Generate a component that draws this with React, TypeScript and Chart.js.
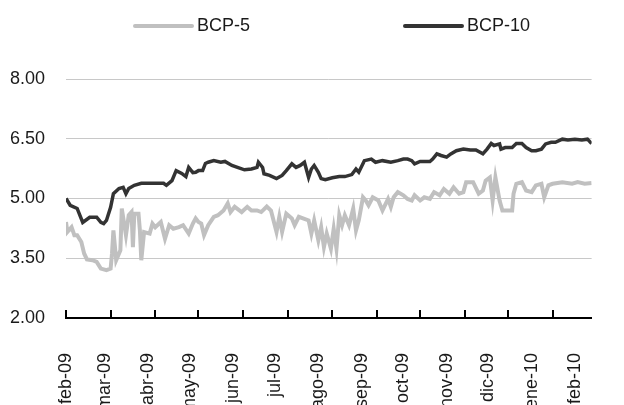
import { useEffect, useRef } from 'react';
import { Chart, registerables } from 'chart.js';

Chart.register(...registerables);

// x unit: days since the first observation (beginning of feb-09)
const MONTH_LABELS = ['feb-09', 'mar-09', 'abr-09', 'may-09', 'jun-09', 'jul-09', 'ago-09', 'sep-09', 'oct-09', 'nov-09', 'dic-09', 'ene-10', 'feb-10'];
const MONTH_DAYS = [0, 28, 59, 89, 120, 150, 181, 212, 242, 273, 303, 334, 365];
const TICK_MARK_DAYS = [0, 32, 64, 95, 127, 159, 191, 223, 254, 286, 317, 349];
const Y_TICKS = [2.0, 3.5, 5.0, 6.5, 8.0];

const SERIES_LABELS = ['BCP-5', 'BCP-10'];

const BCP5_DAYS = [
  0, 1, 4, 6, 8, 11, 13, 15, 19, 22, 25, 29, 32, 33, 34, 36, 37, 39, 40, 43,
  45, 47, 48, 49, 52, 53, 54, 56, 60, 62, 64, 68, 71, 74, 77, 81, 84, 88, 91, 93,
  95, 97, 99, 102, 106, 109, 113, 116, 118, 121, 126, 130, 133, 137, 140, 144, 147, 151, 153, 155,
  158, 162, 164, 167, 170, 174, 176, 178, 181, 183, 185, 187, 190, 192, 194, 196, 198, 200, 203, 206,
  208, 210, 213, 215, 217, 220, 224, 227, 231, 233, 235, 238, 242, 245, 248, 250, 254, 257, 261, 264,
  268, 271, 275, 278, 282, 285, 287, 292, 296, 299, 301, 304, 306, 308, 311, 313, 316, 320, 321, 323,
  327, 330, 334, 337, 341, 343, 346, 349, 356, 363, 367, 372, 377,
];
const BCP5_VALUES = [
  4.41, 4.16, 4.28, 4.08, 4.08, 3.91, 3.62, 3.47, 3.45, 3.41, 3.24, 3.2, 3.24, 3.62, 4.2, 3.45, 3.53, 3.7, 4.75, 4.08,
  4.58, 4.66, 3.78, 4.62, 4.62, 4.2, 3.45, 4.16, 4.12, 4.37, 4.28, 4.41, 3.99, 4.33, 4.24, 4.28, 4.33, 4.12, 4.37, 4.5,
  4.41, 4.37, 4.08, 4.33, 4.54, 4.58, 4.7, 4.88, 4.66, 4.79, 4.66, 4.79, 4.7, 4.7, 4.66, 4.8, 4.7, 4.16, 4.54, 4.16,
  4.62, 4.5, 4.33, 4.54, 4.5, 4.45, 4.12, 4.45, 3.95, 4.28, 3.78, 4.12, 3.74, 4.24, 3.74, 4.58, 4.33, 4.58, 4.33, 4.75,
  4.2, 4.45, 5.03, 4.95, 4.83, 5.03, 4.95, 4.7, 4.99, 4.79, 5.03, 5.16, 5.08, 4.99, 4.95, 5.08, 4.95, 5.03, 4.99, 5.16,
  5.08, 5.24, 5.12, 5.28, 5.12, 5.16, 5.41, 5.41, 5.12, 5.2, 5.45, 5.53, 4.95, 5.53, 4.95, 4.7, 4.7, 4.7, 5.12, 5.37,
  5.41, 5.2, 5.16, 5.33, 5.37, 5.03, 5.33, 5.37, 5.41, 5.37, 5.41, 5.37, 5.39,
];

const BCP10_DAYS = [
  0, 3, 8, 12, 17, 22, 25, 27, 29, 32, 34, 38, 41, 43, 45, 49, 54, 61, 70, 72,
  76, 79, 83, 86, 88, 91, 93, 95, 98, 100, 102, 106, 111, 114, 119, 123, 128, 133, 137, 138,
  141, 142, 146, 151, 155, 158, 162, 165, 168, 171, 174, 176, 178, 181, 183, 186, 191, 196, 200, 205,
  208, 210, 214, 219, 222, 227, 233, 238, 242, 245, 248, 250, 254, 261, 263, 266, 269, 273, 276, 280,
  285, 290, 294, 297, 299, 302, 305, 307, 311, 312, 315, 320, 323, 327, 330, 334, 337, 341, 344, 348,
  351, 356, 360, 365, 370, 374, 377,
];
const BCP10_VALUES = [
  5.0, 4.83, 4.75, 4.4, 4.53, 4.53, 4.4, 4.37, 4.45, 4.78, 5.12, 5.25, 5.28, 5.12, 5.25, 5.33, 5.38, 5.38, 5.38, 5.33,
  5.45, 5.7, 5.63, 5.55, 5.78, 5.65, 5.66, 5.7, 5.7, 5.88, 5.91, 5.95, 5.91, 5.93, 5.83, 5.78, 5.72, 5.74, 5.78, 5.91,
  5.78, 5.62, 5.58, 5.5, 5.58, 5.7, 5.87, 5.78, 5.83, 5.91, 5.53, 5.74, 5.83, 5.66, 5.5, 5.47, 5.52, 5.55, 5.55, 5.6,
  5.74, 5.66, 5.95, 5.99, 5.91, 5.95, 5.91, 5.95, 5.99, 5.99, 5.95, 5.87, 5.93, 5.93, 5.99, 6.12, 6.08, 6.04, 6.12, 6.2,
  6.24, 6.22, 6.22, 6.16, 6.12, 6.24, 6.38, 6.33, 6.37, 6.24, 6.28, 6.28, 6.38, 6.38, 6.28, 6.2, 6.2, 6.24, 6.37, 6.41,
  6.41, 6.49, 6.47, 6.49, 6.47, 6.49, 6.38,
];

const FONT = "'Liberation Sans', Arial, sans-serif";
const FONT_SIZE = 18;
const TEXT_COLOR = '#1a1a1a';
const LEGEND_X = [135, 405];

export default function App() {
  const canvasRef = useRef<HTMLCanvasElement | null>(null);

  useEffect(() => {
    const canvas = canvasRef.current;
    if (!canvas) return;

    const framePlugin = {
      id: 'frame',
      afterDraw(chart: any) {
        const ctx = chart.ctx;
        ctx.save();
        ctx.lineWidth = 3;
        ctx.strokeStyle = '#333';
        ctx.beginPath();
        ctx.moveTo(5.5, 420);
        ctx.lineTo(5.5, 5);
        ctx.lineTo(606, 5);
        ctx.stroke();
        ctx.strokeStyle = '#bbbbbb';
        ctx.beginPath();
        ctx.moveTo(606, 5);
        ctx.lineTo(624, 5);
        ctx.stroke();
        ctx.restore();
      },
    };

    const legendPlugin = {
      id: 'fixedLegend',
      afterDraw(chart: any) {
        const ctx = chart.ctx;
        ctx.save();
        chart.data.datasets.forEach((ds: any, i: number) => {
          const x0 = LEGEND_X[i];
          const y = 26;
          ctx.beginPath();
          ctx.lineCap = 'round';
          ctx.lineWidth = 4;
          ctx.strokeStyle = ds.borderColor;
          ctx.moveTo(x0, y);
          ctx.lineTo(x0 + 57, y);
          ctx.stroke();
          ctx.fillStyle = TEXT_COLOR;
          ctx.font = `${FONT_SIZE}px ${FONT}`;
          ctx.textBaseline = 'middle';
          ctx.textAlign = 'left';
          ctx.fillText(ds.label, x0 + 62, y);
        });
        ctx.restore();
      },
    };

    const innerTicksPlugin = {
      id: 'innerTicks',
      afterDraw(chart: any) {
        const ctx = chart.ctx;
        const xs = chart.scales.x;
        const bottom = chart.chartArea.bottom;
        ctx.save();
        ctx.strokeStyle = '#000';
        ctx.lineWidth = 2;
        TICK_MARK_DAYS.forEach((d) => {
          const px = Math.round(xs.getPixelForValue(d));
          ctx.beginPath();
          ctx.moveTo(px, bottom);
          ctx.lineTo(px, bottom - 8);
          ctx.stroke();
        });
        ctx.restore();
      },
    };

    const chart = new Chart(canvas, {
      type: 'line',
      data: {
        datasets: [
          {
            label: SERIES_LABELS[0],
            data: BCP5_DAYS.map((d, i) => ({ x: d, y: BCP5_VALUES[i] })),
            borderColor: '#c0c0c0',
            borderWidth: 4,
            pointRadius: 0,
            tension: 0,
            fill: false,
          },
          {
            label: SERIES_LABELS[1],
            data: BCP10_DAYS.map((d, i) => ({ x: d, y: BCP10_VALUES[i] })),
            borderColor: '#333333',
            borderWidth: 3.5,
            pointRadius: 0,
            tension: 0,
            fill: false,
          },
        ],
      },
      options: {
        animation: false,
        responsive: false,
        devicePixelRatio: 1,
        layout: { padding: { left: 10, right: 16, top: 79, bottom: 0 } },
        plugins: {
          legend: { display: false },
          tooltip: { enabled: false },
        },
        scales: {
          x: {
            type: 'linear',
            min: 0,
            max: 377,
            grid: { display: false },
            border: { display: true, color: '#000', width: 2 },
            afterBuildTicks: (s: any) => {
              s.ticks = MONTH_DAYS.map((v) => ({ value: v }));
            },
            afterFit: (s: any) => {
              s.height = 87;
            },
            ticks: {
              autoSkip: false,
              minRotation: 90,
              maxRotation: 90,
              padding: 27,
              color: TEXT_COLOR,
              font: { family: FONT, size: FONT_SIZE },
              callback: (_v: any, i: number) => MONTH_LABELS[i],
            },
          },
          y: {
            type: 'linear',
            min: 2,
            max: 8,
            afterBuildTicks: (s: any) => {
              s.ticks = Y_TICKS.map((v) => ({ value: v }));
            },
            afterFit: (s: any) => {
              s.width = 56;
            },
            grid: { color: '#c8c8c8', lineWidth: 1, drawTicks: false },
            border: { display: false },
            ticks: {
              crossAlign: 'far',
              color: TEXT_COLOR,
              font: { family: FONT, size: FONT_SIZE },
              callback: (v: any) => Number(v).toFixed(2),
            },
          },
        },
      },
      plugins: [framePlugin, legendPlugin, innerTicksPlugin],
    } as any);

    return () => chart.destroy();
  }, []);

  return (
    <div style={{ position: 'relative', width: 624, height: 405, margin: '-8px 0 0 -8px', overflow: 'hidden', background: '#fff' }}>
      <canvas ref={canvasRef} width={624} height={405} style={{ position: 'absolute', left: 0, top: 0, display: 'block' }} />
    </div>
  );
}
